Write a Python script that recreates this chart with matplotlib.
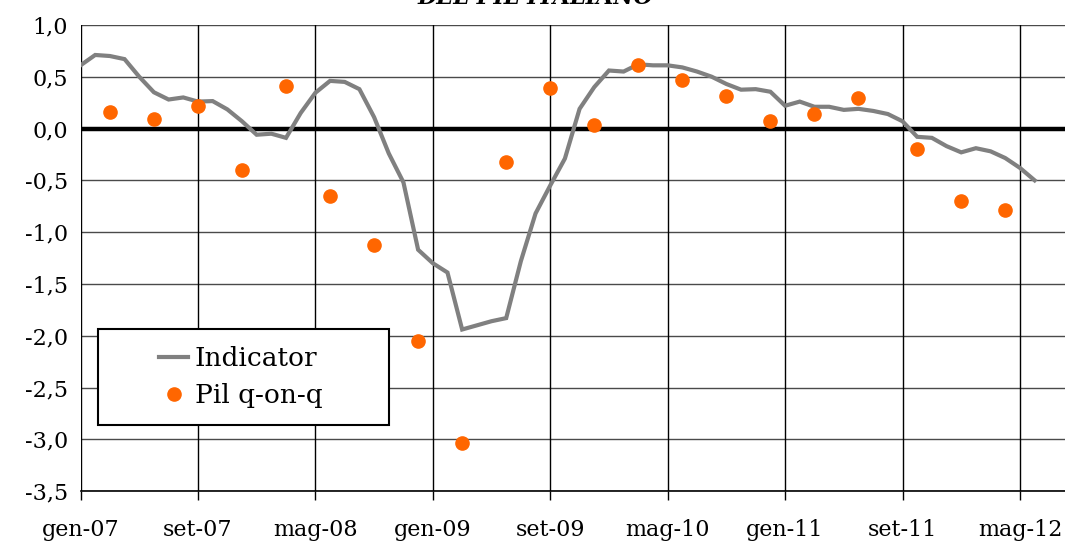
import numpy as np
import matplotlib
matplotlib.use("Agg")
import matplotlib.pyplot as plt
from matplotlib.patches import Rectangle

# monthly indicator, gen-07 .. giu-12
indicator = [0.61, 0.71, 0.70, 0.67, 0.50, 0.35, 0.28, 0.30, 0.26, 0.265,
             0.185, 0.07, -0.06, -0.05, -0.09, 0.15, 0.345, 0.46, 0.45, 0.38,
             0.11, -0.24, -0.52, -1.17, -1.30, -1.39, -1.94, -1.90, -1.86, -1.83,
             -1.28, -0.82, -0.55, -0.29, 0.19, 0.40, 0.56, 0.55, 0.62, 0.61,
             0.61, 0.59, 0.55, 0.50, 0.43, 0.375, 0.38, 0.355, 0.22, 0.26,
             0.21, 0.21, 0.18, 0.19, 0.17, 0.14, 0.07, -0.08, -0.09, -0.17,
             -0.23, -0.19, -0.22, -0.285, -0.38, -0.50]

# quarterly GDP q-on-q, month index counted from gen-07
pil_months = [2, 5, 8, 11, 14, 17, 20, 23, 26, 29, 32, 35, 38, 41, 44,
              47, 50, 53, 57, 60, 63]
pil_qoq = [0.16, 0.09, 0.22, -0.40, 0.41, -0.65, -1.12, -2.05, -3.04, -0.32,
           0.39, 0.03, 0.61, 0.47, 0.31, 0.07, 0.14, 0.29, -0.20, -0.70, -0.79]

tick_pos = [0, 8, 16, 24, 32, 40, 48, 56, 64]
tick_labels = ['gen-07', 'set-07', 'mag-08', 'gen-09', 'set-09',
               'mag-10', 'gen-11', 'set-11', 'mag-12']
y_ticks = np.arange(-3.5, 1.01, 0.5)

plt.rcParams['font.family'] = ['DejaVu Serif']

fig = plt.figure(figsize=(10.65, 5.42), dpi=100)
ax = fig.add_axes([0.0756, 0.0939, 0.9244, 0.8601])

months = np.arange(len(indicator))
ax.plot(months, indicator, color='#808080', lw=3, zorder=3,
        solid_joinstyle='miter', label='Indicator')
ax.plot(pil_months, pil_qoq, 'o', color='#FF6600', ms=9.5, mec='#FF6600',
        zorder=4, label='Pil q-on-q')
ax.axhline(0, color='black', lw=3.2, zorder=2)

ax.set_xlim(0, 67.07)
ax.set_ylim(-3.5, 1.0)
ax.set_xticks(tick_pos)
ax.set_xticklabels(tick_labels)
ax.set_yticks(y_ticks)
ax.set_yticklabels([f'{v:.1f}'.replace('.', ',') for v in y_ticks])

for v in y_ticks:
    ax.axhline(v, color='#4a4a4a', lw=1, zorder=1)
for p in tick_pos:
    ax.axvline(p, color='black', lw=1, zorder=1)

for s in ['top', 'right', 'left']:
    ax.spines[s].set_visible(False)
ax.spines['bottom'].set_color('black')
ax.spines['bottom'].set_linewidth(1.2)

ax.tick_params(axis='x', length=6.5, width=1, color='black', pad=13.5,
               labelsize=16)
ax.tick_params(axis='y', length=0, pad=9, labelsize=16)

# legend box
ax.add_patch(Rectangle((0.0175, 0.1411), 0.296, 0.2066, transform=ax.transAxes,
                       facecolor='white', edgecolor='black', lw=1.5, zorder=5))
leg = ax.legend(loc='center', bbox_to_anchor=(0.163, 0.245), frameon=False,
                fontsize=19, handlelength=1.1, handletextpad=0.25,
                labelspacing=0.45, borderpad=0)
leg.set_zorder(6)

fig.text(0.503, 0.992, 'DEL PIL ITALIANO', ha='center', va='baseline',
         fontsize=16, fontweight='bold', fontstyle='italic')

fig.savefig('out.png', dpi=100)
